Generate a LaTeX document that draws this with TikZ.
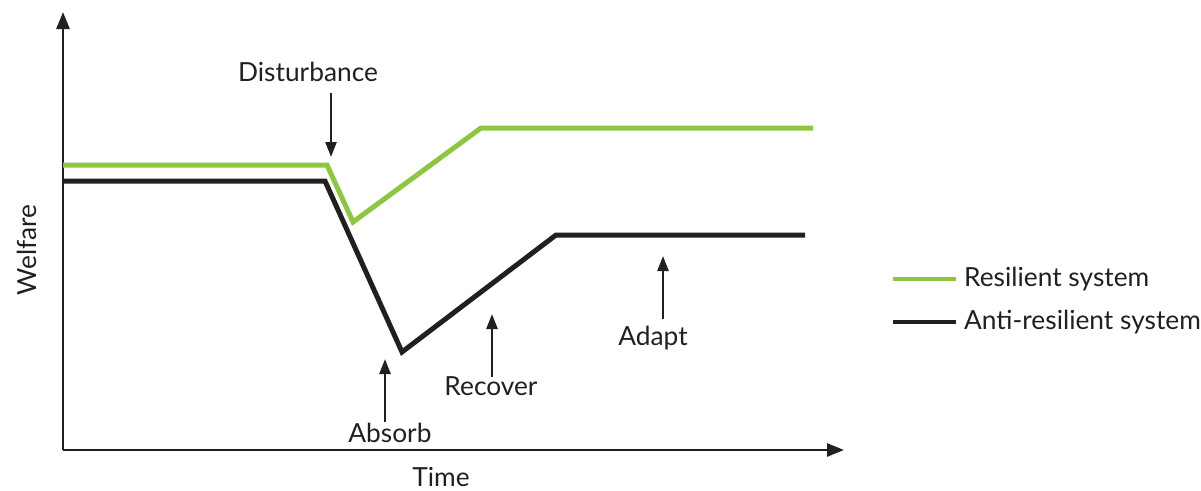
\documentclass[tikz,border=0pt]{standalone}
\usepackage{fontspec}
\setmainfont{Lato}
\usetikzlibrary{arrows.meta}
\definecolor{resgreen}{HTML}{8DC63F}
\definecolor{ink}{HTML}{231F20}
\begin{document}
\begin{tikzpicture}[x=1pt,y=-1pt,
  axis/.style={draw=ink,line width=2.6pt,-{Triangle[length=17pt,width=13pt]}},
  callout/.style={draw=ink,line width=2.4pt,-{Triangle[length=15pt,width=11pt]}},
  curve/.style={line width=5pt,line join=miter},
  lbl/.style={text=ink,font=\fontsize{26.3}{30}\selectfont,inner sep=0pt},
  legline/.style={line width=3.5pt}]
\useasboundingbox (0,0) rectangle (1201,490);
% axes
\coordinate (O) at (63,450);
\coordinate (ytop) at (63,12);
\coordinate (xend) at (844,450);
\draw[axis] (O) -- (ytop);
\draw[axis] (O) -- (xend);
\node[lbl,rotate=90] (welfare) at (27,250) {Welfare};
\node[lbl] (time) at (441,477) {Time};
% resilient system
\draw[curve,resgreen] (63,165) -- (327,165) -- (353,222) -- (481,128) -- (813,128);
% anti-resilient system
\draw[curve,ink] (63,181) -- (325,181) -- (402,352) -- (556,235) -- (805,235);
% annotations
\node[lbl] (dist) at (308,72) {Disturbance};
\coordinate (distTip) at (331,157);
\draw[callout] (331,93) -- (distTip);
\node[lbl] (absorb) at (390,433) {Absorb};
\coordinate (absorbTip) at (385,359);
\draw[callout] (385,422) -- (absorbTip);
\node[lbl] (recover) at (491,386) {Recover};
\coordinate (recoverTip) at (492,314);
\draw[callout] (492,377) -- (recoverTip);
\node[lbl] (adapt) at (653,338) {Adapt};
\coordinate (adaptTip) at (663,256);
\draw[callout] (663,319) -- (adaptTip);
% legend
\coordinate (g1) at (893,279);
\coordinate (g2) at (956,279);
\draw[legline,resgreen] (g1) -- (g2);
\node[lbl,anchor=west] (legres) at (964,279) {Resilient system};
\coordinate (k1) at (893,322);
\coordinate (k2) at (956,322);
\draw[legline,ink] (k1) -- (k2);
\node[lbl,anchor=west] (legan) at (964,322) {Anti-resilient system};
\end{tikzpicture}
\end{document}
